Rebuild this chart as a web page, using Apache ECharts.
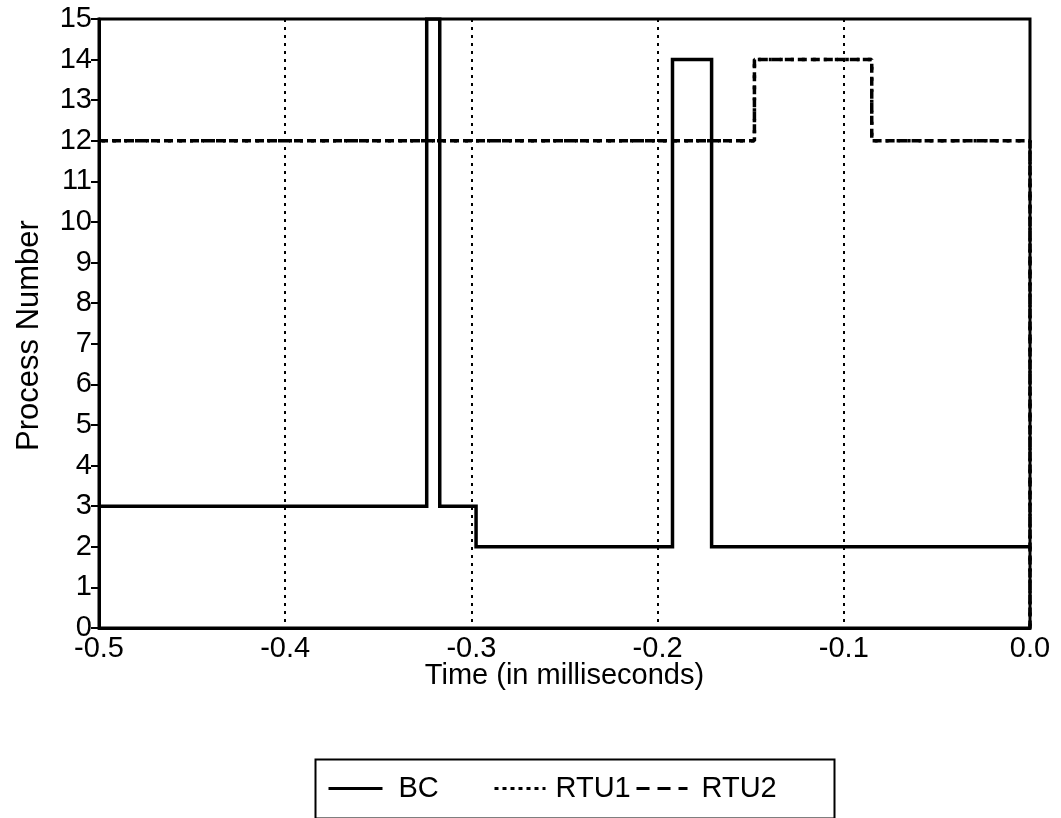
<!DOCTYPE html>
<html>
<head>
<meta charset="utf-8">
<script src="https://cdn.jsdelivr.net/npm/echarts@6/dist/echarts.min.js"></script>
<style>html,body{margin:0;padding:0;background:#fff;}#c{width:1061px;height:818px;}</style>
</head>
<body>
<div id="c"></div>
<script>
// Data
const bcTime  = [-0.5, -0.324, -0.324, -0.317, -0.317, -0.2975, -0.2975, -0.192, -0.192, -0.171, -0.171, 0.0];
const bcValue = [3, 3, 15, 15, 3, 3, 2, 2, 14, 14, 2, 2];
const rtu1Time  = [-0.5, -0.148, -0.148, -0.085, -0.085, 0.0, 0.0];
const rtu1Value = [12, 12, 14, 14, 12, 12, 0];
const rtu2Time  = [-0.5, -0.148, -0.148, -0.085, -0.085, 0.0, 0.0];
const rtu2Value = [12, 12, 14, 14, 12, 12, 0];
const yTicks = [0,1,2,3,4,5,6,7,8,9,10,11,12,13,14,15];
const xTicks = [-0.5,-0.4,-0.3,-0.2,-0.1,0.0];

function pairs(t, v){ return t.map((x,i)=>[x, v[i]]); }
const FONT = 'Liberation Sans';
const FS = 29;
function legendFor(name, left, textPad, lineType){
  return {
    data: [name], left: left, top: 774, padding: 0,
    itemWidth: 54, itemHeight: 14,
    itemStyle: { opacity: 0, borderWidth: 0 },
    lineStyle: { color: '#000', width: 3, type: lineType },
    textStyle: { fontFamily: FONT, fontSize: FS, color: '#000', padding: [0, 0, 0, textPad] },
    selectedMode: false
  };
}
const chart = echarts.init(document.getElementById('c'));
chart.setOption({
  animation: false,
  backgroundColor: '#fff',
  grid: { left: 99, right: 31, top: 19, bottom: 190, show: true, borderColor: '#000', borderWidth: 3 },
  xAxis: {
    type: 'value', min: -0.5, max: 0, interval: 0.1,
    name: 'Time (in milliseconds)', nameLocation: 'middle', nameGap: 33, nameMoveOverlap: false,
    nameTextStyle: { fontFamily: FONT, fontSize: FS, color: '#000', verticalAlign: 'top' },
    axisLine: { show: true, onZero: false, lineStyle: { color: '#000', width: 3 } },
    axisTick: { show: false },
    axisLabel: { fontFamily: FONT, fontSize: FS, color: '#000', margin: 6,
      formatter: v => { const i = Math.round((v + 0.5) * 10); return xTicks[i].toFixed(1); } },
    splitLine: { show: true, lineStyle: { color: '#000', width: 2, type: [3, 5] } }
  },
  yAxis: {
    type: 'value', min: 0, max: 15, interval: 1,
    name: 'Process Number', nameLocation: 'middle', nameGap: 54,
    nameTextStyle: { fontFamily: FONT, fontSize: 31, color: '#000', padding: [0, 24, 0, 0] },
    axisLine: { show: true, onZero: false, lineStyle: { color: '#000', width: 3 } },
    axisTick: { show: true, inside: false, length: 8, lineStyle: { color: '#000', width: 2 } },
    axisLabel: { fontFamily: FONT, fontSize: FS, color: '#000', margin: 7,
      formatter: v => String(yTicks[Math.round(v)]) },
    splitLine: { show: false }
  },
  legend: [
    legendFor('BC', 327, 11, 'solid'),
    legendFor('RTU1', 490, 5, [4, 4]),
    legendFor('RTU2', 632, 9, [13, 8])
  ],
  graphic: [{
    type: 'rect', left: 313, top: 757, z: 100, silent: true,
    shape: { width: 519, height: 59 },
    style: { fill: 'none', stroke: '#000', lineWidth: 2 }
  }],
  series: [
    { name: 'BC', type: 'line', data: pairs(bcTime, bcValue), showSymbol: false, symbol: 'none',
      lineStyle: { color: '#000', width: 3.5, join: 'miter' }, itemStyle: { color: '#000' }, z: 5 },
    { name: 'RTU1', type: 'line', data: pairs(rtu1Time, rtu1Value), showSymbol: false, symbol: 'none',
      lineStyle: { color: '#000', width: 3.5, type: [3, 8], dashOffset: -3 }, itemStyle: { color: '#000' }, z: 4 },
    { name: 'RTU2', type: 'line', data: pairs(rtu2Time, rtu2Value), showSymbol: false, symbol: 'none',
      lineStyle: { color: '#000', width: 3.5, type: [9, 4] }, itemStyle: { color: '#000' }, z: 4 }
  ]
});
</script>
</body>
</html>
